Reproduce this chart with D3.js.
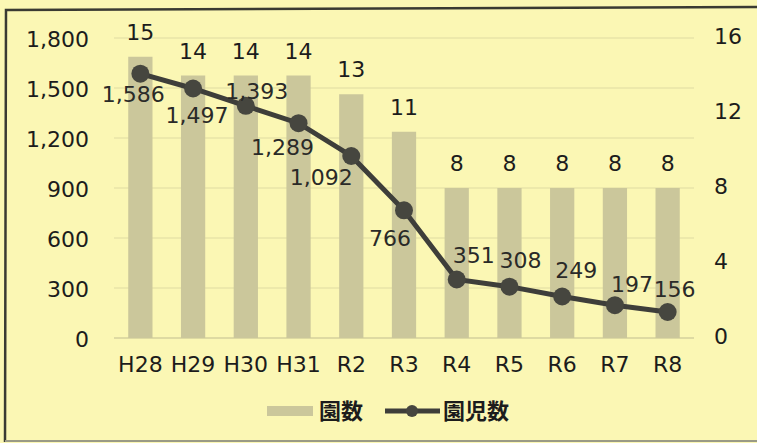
<!DOCTYPE html>
<html>
<head>
<meta charset="utf-8">
<script src="https://cdn.jsdelivr.net/npm/d3@7"></script>
<style>
  body { margin: 0; background: #faf6b6; }
  svg { display: block; }
</style>
</head>
<body>
<div id="chart"></div>
<script>
  // data
  var years = ['H28', 'H29', 'H30', 'H31', 'R2', 'R3', 'R4', 'R5', 'R6', 'R7', 'R8'];
  var schools = [15, 14, 14, 14, 13, 11, 8, 8, 8, 8, 8];           // 園数 (right axis)
  var children = [1586, 1497, 1393, 1289, 1092, 766, 351, 308, 249, 197, 156]; // 園児数 (left axis)
  var leftTicks = [0, 300, 600, 900, 1200, 1500, 1800];
  var rightTicks = [0, 4, 8, 12, 16];

  // where each child-count label sits relative to its dot
  var lblOff = [[-7, 21], [4, 27], [11, -15], [-16, 24], [-30, 21], [-14, 28], [17, -24], [11, -26], [14, -26], [17, -21], [7, -23]];

  var W = 757, H = 443;
  var font = "'DejaVu Sans', Verdana, sans-serif";
  var svg = d3.select('#chart').append('svg')
              .attr('width', W)
              .attr('height', H);

  svg.append('rect')
     .attr('width', W).attr('height', H)
     .attr('fill', '#fbf7b4');

  // frame of the scanned chart
  svg.append('path')
     .attr('d', 'M' + 760 + ',7 L6,10 L5,442')
     .attr('fill', 'none')
     .attr('stroke', '#3a3a32')
     .attr('stroke-width', 2.5);
  svg.append('line')
     .attr('x1', 5).attr('x2', 760)
     .attr('y1', 441).attr('y2', 441)
     .attr('stroke', '#9a9a86')
     .attr('stroke-width', 2);

  var x = d3.scaleBand()
            .domain(years)
            .range([114, 694])
            .paddingInner(0.54)
            .paddingOuter(0.27);
  var yL = d3.scaleLinear().domain([0, 1800]).range([338, 38]);
  var yR = d3.scaleLinear().domain([0, 16]).range([338, 38]);

  // gridlines
  svg.append('g').selectAll('line')
     .data(leftTicks)
     .enter()
     .append('line')
     .attr('x1', 114).attr('x2', 694)
     .attr('y1', function(d){ return yL(d); })
     .attr('y2', function(d){ return yL(d); })
     .attr('stroke', function(d){ return d === 0 ? '#d4d09c' : '#e9e5a8'; })
     .attr('stroke-width', 1.5);

  // bars
  svg.append('g').selectAll('rect')
     .data(schools)
     .enter()
     .append('rect')
     .attr('x', function(d, i){ return x(years[i]); })
     .attr('y', function(d){ return yR(d); })
     .attr('width', x.bandwidth())
     .attr('height', function(d){ return 338 - yR(d); })
     .attr('fill', '#cbc79b');

  svg.append('g').selectAll('text')
     .data(schools)
     .enter()
     .append('text')
     .attr('x', function(d, i){ return x(years[i]) + x.bandwidth() / 2; })
     .attr('y', function(d){ return yR(d) - 17; })
     .attr('text-anchor', 'middle')
     .attr('font-family', font)
     .attr('font-size', 22)
     .attr('fill', '#1c1c1c')
     .text(function(d){ return d; });

  // axes
  var axL = d3.axisLeft(yL).tickValues(leftTicks).tickSize(0).tickPadding(0)
              .tickFormat(d3.format(','));
  var gL = svg.append('g').attr('transform', 'translate(89,1)').call(axL);
  var axR = d3.axisRight(yR).tickValues(rightTicks).tickSize(0).tickPadding(0);
  var gR = svg.append('g').attr('transform', 'translate(714,-2)').call(axR);
  var axB = d3.axisBottom(x).tickSize(0).tickPadding(0);
  var gB = svg.append('g').attr('transform', 'translate(0,353)').call(axB);

  [gL, gR, gB].forEach(function(g){
    g.select('.domain').remove();
    g.selectAll('text')
     .attr('font-family', font)
     .attr('font-size', 22)
     .attr('fill', '#1c1c1c');
  });
  gB.selectAll('text').attr('dy', '0.85em');

  // line
  var line = d3.line()
               .x(function(d, i){ return x(years[i]) + x.bandwidth() / 2; })
               .y(function(d){ return yL(d); });

  svg.append('path')
     .datum(children)
     .attr('d', line)
     .attr('fill', 'none')
     .attr('stroke', '#3e3e3a')
     .attr('stroke-width', 5);

  svg.append('g').selectAll('circle')
     .data(children)
     .enter()
     .append('circle')
     .attr('cx', function(d, i){ return x(years[i]) + x.bandwidth() / 2; })
     .attr('cy', function(d){ return yL(d); })
     .attr('r', 9)
     .attr('fill', '#46463f');

  svg.append('g').selectAll('text')
     .data(children)
     .enter()
     .append('text')
     .attr('x', function(d, i){ return x(years[i]) + x.bandwidth() / 2 + lblOff[i][0]; })
     .attr('y', function(d, i){ return yL(d) + lblOff[i][1]; })
     .attr('text-anchor', 'middle')
     .attr('dy', '0.35em')
     .attr('font-family', font)
     .attr('font-size', 22)
     .attr('fill', '#2a2a28')
     .text(function(d){ return d3.format(',')(d); });

  // legend
  var leg = svg.append('g').attr('transform', 'translate(0,411)');
  leg.append('rect')
     .attr('x', 267).attr('y', -5)
     .attr('width', 46).attr('height', 10)
     .attr('fill', '#cbc79b');
  leg.append('text')
     .attr('x', 319).attr('y', 0).attr('dy', '0.35em')
     .attr('font-family', "'Noto Sans CJK JP', sans-serif")
     .attr('font-weight', 'bold')
     .attr('font-size', 22)
     .attr('fill', '#1c1c1c')
     .text('園数');
  leg.append('line')
     .attr('x1', 385).attr('x2', 440)
     .attr('y1', 0).attr('y2', 0)
     .attr('stroke', '#3e3e3a')
     .attr('stroke-width', 5);
  leg.append('circle')
     .attr('cx', 412).attr('cy', 0).attr('r', 6)
     .attr('fill', '#46463f');
  leg.append('text')
     .attr('x', 443).attr('y', 0).attr('dy', '0.35em')
     .attr('font-family', "'Noto Sans CJK JP', sans-serif")
     .attr('font-weight', 'bold')
     .attr('font-size', 22)
     .attr('fill', '#1c1c1c')
     .text('園児数');
</script>
</body>
</html>
